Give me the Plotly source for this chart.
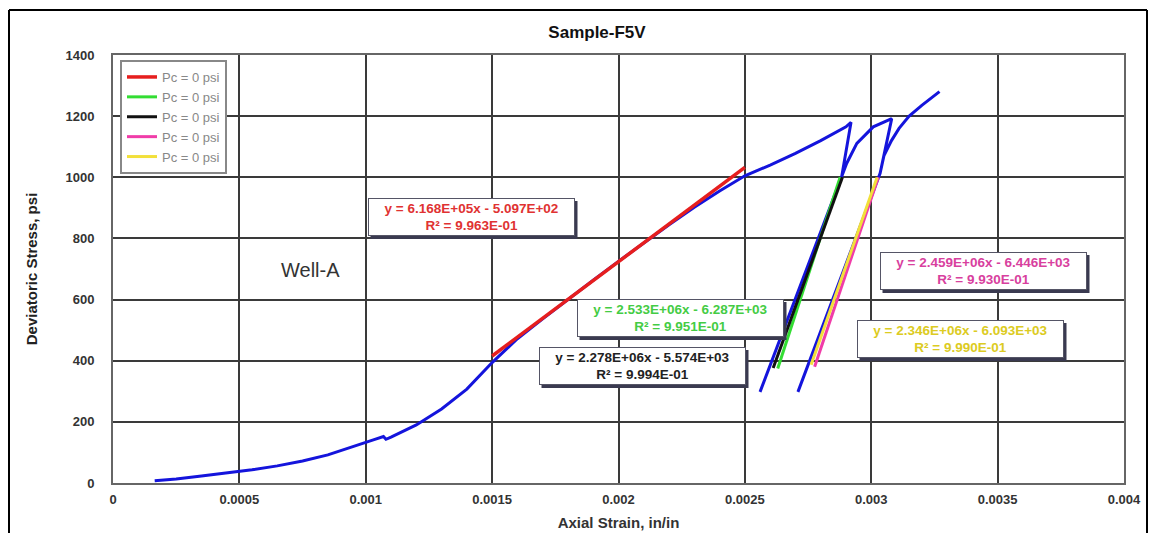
import plotly.graph_objects as go

# ---- data ----
strain_blue = [0.000165, 0.00025, 0.00035, 0.00045, 0.00055, 0.00065, 0.00075, 0.00085,
               0.00095, 0.00103, 0.00107, 0.00108, 0.0011, 0.0012, 0.0013, 0.0014, 0.0015,
               0.0016, 0.0017, 0.0018, 0.0019, 0.002, 0.0021, 0.0022, 0.0023, 0.0024, 0.0025,
               0.0026, 0.0027, 0.0028, 0.0029, 0.00292,
               0.002883, 0.00256, 0.002883,
               0.002903, 0.002943, 0.003008, 0.003081,
               0.003035, 0.00271, 0.003035,
               0.00305, 0.00308, 0.00311, 0.00315, 0.0032, 0.00327]
stress_blue = [7, 13, 23, 33, 43, 56, 72, 92,
               118, 141, 152, 143, 150, 190, 242, 307, 394,
               472, 537, 601, 663, 725, 785, 845, 902, 955, 1005,
               1040, 1078, 1120, 1165, 1180,
               1002, 298, 1002,
               1046, 1111, 1165, 1192,
               1013, 298, 1013,
               1070, 1120, 1160, 1200, 1235, 1280]

legend_names = ["Pc = 0 psi"] * 5

# trendlines: (slope, intercept, x_start, x_end)
fits = {
    "red":     (6.168e5, -5.097e2, 0.0015, 0.0025),
    "green":   (2.533e6, -6.287e3, 0.00263, 0.002877),
    "black":   (2.278e6, -5.574e3, 0.002612, 0.002886),
    "magenta": (2.459e6, -6.446e3, 0.002776, 0.003028),
    "yellow":  (2.346e6, -6.093e3, 0.002762, 0.003023),
}
fit_labels = {
    "red":     "y = 6.168E+05x - 5.097E+02<br>R² = 9.963E-01",
    "green":   "y = 2.533E+06x - 6.287E+03<br>R² = 9.951E-01",
    "black":   "y = 2.278E+06x - 5.574E+03<br>R² = 9.994E-01",
    "magenta": "y = 2.459E+06x - 6.446E+03<br>R² = 9.930E-01",
    "yellow":  "y = 2.346E+06x - 6.093E+03<br>R² = 9.990E-01",
}

x_ticks = [0, 0.0005, 0.001, 0.0015, 0.002, 0.0025, 0.003, 0.0035, 0.004]
x_tick_text = ["0", "0.0005", "0.001", "0.0015", "0.002", "0.0025", "0.003", "0.0035", "0.004"]
y_ticks = [0, 200, 400, 600, 800, 1000, 1200, 1400]
y_tick_text = ["0", "200", "400", "600", "800", "1000", "1200", "1400"]

line_colors = {"red": "#E61E1E", "green": "#33DD33", "black": "#111111",
               "magenta": "#F03CA8", "yellow": "#F2E03A"}
line_widths = {"red": 3.5, "green": 3, "black": 3, "magenta": 3, "yellow": 3}
text_colors = {"red": "#E03232", "green": "#44CC44", "black": "#222222",
               "magenta": "#D8409E", "yellow": "#DCCB22"}

fig = go.Figure()
fig.add_trace(go.Scatter(x=strain_blue, y=stress_blue, mode="lines",
                         line=dict(color="#1414DC", width=3), showlegend=False,
                         hoverinfo="skip"))

draw_order = ["red", "green", "black", "magenta", "yellow"]
for i, key in enumerate(draw_order):
    m, b, x0, x1 = fits[key]
    xs = [x0, x1]
    ys = [m * x0 + b, m * x1 + b]
    fig.add_trace(go.Scatter(x=xs, y=ys, mode="lines", name=legend_names[i],
                             line=dict(color=line_colors[key], width=line_widths[key]),
                             legendrank=i + 1))

# ---- layout helpers (pixel -> paper) ----
L, R, T, B = 113, 1124, 55, 483
def px(xp):
    return (xp - L) / (R - L)
def py(yp):
    return (B - yp) / (B - T)

box_pos = {
    "red": (471, 217),
    "green": (680, 318),
    "black": (642, 366),
    "magenta": (983, 271),
    "yellow": (960, 339),
}
BW, BH = 207, 38
annotations = []
shapes = []
for key, (cx, cy) in box_pos.items():
    shapes.append(dict(type="rect", xref="paper", yref="paper",
                       x0=px(cx - BW / 2 + 3), x1=px(cx + BW / 2 + 3),
                       y0=py(cy + BH / 2 + 3), y1=py(cy - BH / 2 + 3),
                       fillcolor="#3a3a50", line=dict(width=0)))
    annotations.append(dict(x=px(cx), y=py(cy), xref="paper", yref="paper",
                            xanchor="center", yanchor="middle",
                            text="<b>" + fit_labels[key] + "</b>", showarrow=False,
                            width=BW - 6, height=BH - 6,
                            font=dict(family="Arial", size=13.5, color=text_colors[key]),
                            bgcolor="white", borderpad=2, borderwidth=1,
                            bordercolor="#555566", align="center", valign="middle"))
annotations.append(dict(x=px(310), y=py(270), xref="paper", yref="paper",
                        xanchor="center", yanchor="middle",
                        text="Well-A", showarrow=False,
                        font=dict(family="Arial", size=20, color="#333333")))

shapes += [
    dict(type="line", xref="paper", yref="paper", x0=px(9), x1=px(9), y0=py(10), y1=py(540),
         line=dict(color="black", width=2)),
    dict(type="line", xref="paper", yref="paper", x0=px(9), x1=px(1147), y0=py(10), y1=py(10),
         line=dict(color="black", width=2)),
    dict(type="line", xref="paper", yref="paper", x0=px(1147), x1=px(1147), y0=py(10), y1=py(540),
         line=dict(color="black", width=2)),
]

tickfont = dict(family="Arial", size=13, color="#333333")
fig.update_layout(
    width=1151, height=533,
    margin=dict(l=L, r=1151 - R, t=T, b=533 - B, autoexpand=False),
    paper_bgcolor="white", plot_bgcolor="white",
    title=dict(text="<b>Sample-F5V</b>", x=px(597), xref="paper", xanchor="center",
               y=1 - 32 / 533, yref="container", yanchor="middle",
               font=dict(family="Arial", size=17, color="#111111")),
    font=dict(family="Arial", color="#333333"),
    xaxis=dict(range=[0, 0.004], tickvals=x_ticks, automargin=False,
               ticktext=["<b>" + t + "</b>" for t in x_tick_text],
               showgrid=True, gridcolor="#3a3a3a", gridwidth=1.6,
               showline=True, linecolor="#666666", linewidth=2, mirror=True,
               zeroline=False, ticks="", ticklabelstandoff=3, tickfont=tickfont,
               title=dict(text="<b>Axial Strain, in/in</b>", standoff=12,
                          font=dict(family="Arial", size=15, color="#333333"))),
    yaxis=dict(range=[0, 1400], tickvals=y_ticks, automargin=False,
               ticktext=["<b>" + t + "</b>" for t in y_tick_text],
               showgrid=True, gridcolor="#3a3a3a", gridwidth=1.6,
               showline=True, linecolor="#666666", linewidth=2, mirror=True,
               zeroline=False, ticks="", ticklabelstandoff=14, tickfont=tickfont,
               title=dict(text="<b>Deviatoric Stress, psi</b>", standoff=24,
                          font=dict(family="Arial", size=15, color="#222222"))),
    legend=dict(x=px(120), y=py(60), xanchor="left", yanchor="top",
                bgcolor="white", bordercolor="#888888", borderwidth=2,
                font=dict(family="Arial", size=13, color="#888888"),
                tracegroupgap=0, itemwidth=30),
    annotations=annotations,
    shapes=shapes,
)

fig.write_html("out.html")
